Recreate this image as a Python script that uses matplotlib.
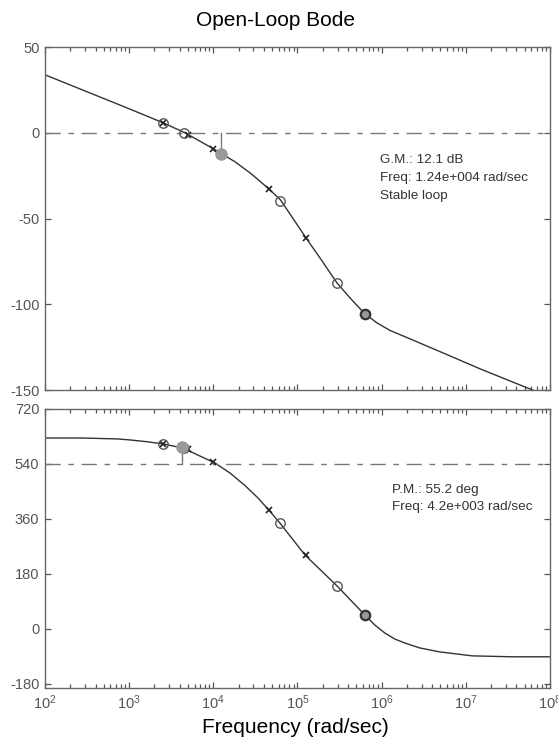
__doc__ = """开环Bode图（带幅值/相位裕度标注）"""

import matplotlib
from matplotlib import pyplot as plt
from matplotlib.ticker import LogLocator, FixedLocator, NullFormatter

matplotlib.use('Agg')

# 幅频曲线
mag_freq = [1e2, 1e3, 2.54e3, 4.6e3, 1e4, 1.24e4, 1.81e4, 2.8e4, 4.57e4, 6.3e4,
            1.26e5, 1.95e5, 2.94e5, 4.3e5, 6.31e5, 8.77e5, 1.25e6, 2.16e6, 5.33e6,
            1.47e7, 4.38e7, 1e8]
mag_db = [33.8, 14.0, 5.8, 0, -9.3, -12.1, -16.9, -23.8, -32.7, -39.2,
          -61.2, -74.6, -87.5, -96.8, -105.5, -110.8, -115.2, -120.1, -128.3,
          -137.6, -147, -154]

# 相频曲线
phase_freq = [1e2, 2.82e2, 7.24e2, 1e3, 1.62e3, 2.51e3, 4.37e3, 1.05e4, 1.57e4, 2.37e4,
              3.39e4, 4.68e4, 6.3e4, 1.23e5, 2.95e5, 6.31e5, 8.3e5, 1.09e6, 1.44e6,
              1.89e6, 2.84e6, 4.9e6, 1.2e7, 3.6e7, 1e8]
phase_deg = [625, 625, 622, 619, 613, 606, 592, 543, 511, 470,
             429, 386, 344, 242, 141, 46, 13, -13, -33,
             -46, -62, -75, -88, -91, -91]

# 标记点 (x: 极点, o: 零点)
cross_freq = [2.54e3, 5.0e3, 1.0e4, 4.6e4, 1.26e5]
cross_mag = [5.8, -1.5, -9.3, -32.5, -61.2]
cross_phase = [606, 588, 546, 389, 242]
circle_freq = [2.54e3, 4.5e3, 6.2e4, 2.95e5]
circle_mag = [5.8, 0, -39.5, -87.5]
circle_phase = [606, 593, 346, 141]
bold_freq = [6.31e5]
bold_mag = [-105.5]
bold_phase = [46]

# 裕度
gm_db, gm_freq = 12.1, 1.24e4
pm_deg, pm_freq = 55.2, 4.2e3
gm_text = 'G.M.: 12.1 dB\nFreq: 1.24e+004 rad/sec\nStable loop'
pm_text = 'P.M.: 55.2 deg\nFreq: 4.2e+003 rad/sec'

GRAY = '#555555'
DASH = (0, (11, 5.5, 4, 5.5))
plt.rcParams['font.family'] = ['Liberation Sans', 'DejaVu Sans']
plt.rcParams['mathtext.fontset'] = 'custom'
plt.rcParams['mathtext.rm'] = 'Liberation Sans'
plt.rcParams['axes.unicode_minus'] = False


def styleAxis(ax, yticks, ylim, show_xlabels):
    """MATLAB风格坐标轴"""
    ax.set_xscale('log')
    ax.set_xlim(1e2, 1e8)
    ax.set_ylim(*ylim)
    ax.yaxis.set_major_locator(FixedLocator(yticks))
    ax.xaxis.set_major_locator(LogLocator(base=10, numticks=10))
    ax.xaxis.set_minor_locator(LogLocator(base=10, subs=range(2, 10), numticks=20))
    ax.xaxis.set_minor_formatter(NullFormatter())
    ax.tick_params(which='both', direction='in', top=True, right=True, colors=GRAY,
                   labelsize=10.5, width=0.9)
    ax.tick_params(which='major', length=4, pad=4)
    ax.tick_params(which='minor', length=3)
    if not show_xlabels:
        ax.xaxis.set_major_formatter(NullFormatter())
    for sp in ax.spines.values():
        sp.set_color('#666666')
        sp.set_linewidth(1.0)


def drawMarkers(ax, yc, yo, yb):
    """极点/零点标记"""
    ax.plot(cross_freq, yc, 'x', color='#222222', ms=5, mew=1.2)
    ax.plot(circle_freq, yo, 'o', mfc='none', mec='#555555', ms=6.8, mew=1.0)
    ax.plot(bold_freq, yb, 'o', mfc='#999999', mec='#333333', ms=6.8, mew=1.6)


fig = plt.figure(figsize=(5.58, 7.38), dpi=100)
ax1 = fig.add_axes([0.0806, 0.4715, 0.905, 0.4648])
ax2 = fig.add_axes([0.0806, 0.0678, 0.905, 0.378])

# 幅频
ax1.plot(mag_freq, mag_db, color='#333333', lw=1.0)
ax1.axhline(0, color='#777777', lw=1.0, ls=DASH)
ax1.plot([gm_freq, gm_freq], [0, -gm_db], color='#777777', lw=1.0)
drawMarkers(ax1, cross_mag, circle_mag, bold_mag)
ax1.plot([gm_freq], [-gm_db], 'o', color='#999999', ms=8)
ax1.text(9.5e5, -12.5, gm_text, fontsize=9.7, color='#333333', va='top', linespacing=1.68)
styleAxis(ax1, [-150, -100, -50, 0, 50], (-150, 50), False)

# 相频
ax2.plot(phase_freq, phase_deg, color='#333333', lw=1.0)
ax2.axhline(540, color='#777777', lw=1.0, ls=DASH)
ax2.plot([pm_freq, pm_freq], [540, 540 + pm_deg], color='#777777', lw=1.0)
drawMarkers(ax2, cross_phase, circle_phase, bold_phase)
ax2.plot([pm_freq], [540 + pm_deg], 'o', color='#999999', ms=8)
ax2.text(1.32e6, 473, pm_text, fontsize=9.7, color='#333333', va='top', linespacing=1.5)
styleAxis(ax2, [-180, 0, 180, 360, 540, 720], (-193, 720), True)

fig.text(0.493, 0.972, 'Open-Loop Bode', ha='center', va='center', fontsize=15)
fig.text(0.529, 0.014, 'Frequency (rad/sec)', ha='center', va='center', fontsize=15)

fig.savefig('out.png', dpi=100)
